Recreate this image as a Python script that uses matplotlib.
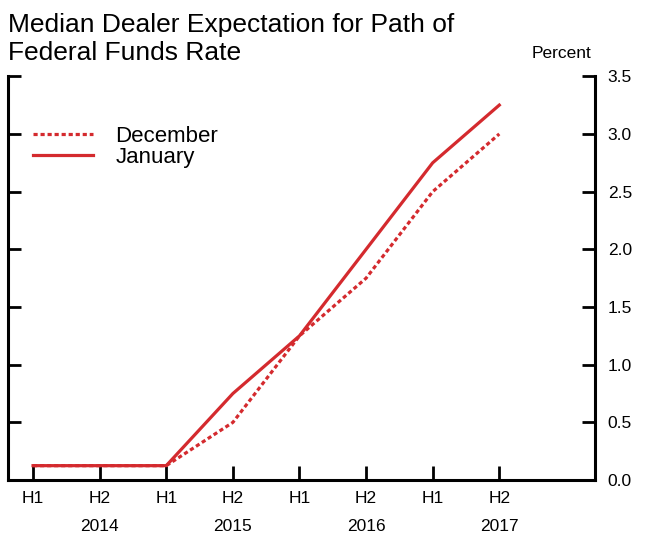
import matplotlib
matplotlib.use('Agg')
import matplotlib.pyplot as plt
import matplotlib.transforms as mtransforms

plt.rcParams['font.family'] = ['Liberation Sans', 'DejaVu Sans']

# Half-year periods and dealer expectations (percent)
halves = ['H1', 'H2', 'H1', 'H2', 'H1', 'H2', 'H1', 'H2']
years = ['2014', '2015', '2016', '2017']
december = [0.125, 0.125, 0.125, 0.5, 1.25, 1.75, 2.5, 3.0]
january = [0.125, 0.125, 0.125, 0.75, 1.25, 2.0, 2.75, 3.25]

red = '#d42a2e'

fig = plt.figure(figsize=(6.51, 5.37), dpi=100)
ax = fig.add_axes([0.0123, 0.106, 0.902, 0.752])

x = list(range(len(halves)))
ax.plot(x, december, color=red, lw=2.3, linestyle=(0, (1.3, 0.9)), label='December')
ax.plot(x, january, color=red, lw=2.3, label='January')

ax.set_xlim(-0.376, 8.44)
ax.set_ylim(0, 3.5)

# Spines: left, right, bottom only
ax.spines['top'].set_visible(False)
for s in ['left', 'right', 'bottom']:
    ax.spines[s].set_linewidth(2.2)

ax.set_xticks(x)
ax.set_xticklabels(halves, fontsize=12.5)
ax.tick_params(axis='x', direction='in', length=10, width=2, pad=8)

yt = [0, 0.5, 1.0, 1.5, 2.0, 2.5, 3.0, 3.5]
ax.set_yticks(yt)
ax.set_yticklabels([f'{v:.1f}' for v in yt], fontsize=12.5)
ax.tick_params(axis='y', direction='in', length=9.5, width=2,
               left=True, right=True, labelleft=False, labelright=True, pad=9)
# longer tick at the top of both axes
ax.set_yticks([3.5], minor=True)
ax.tick_params(axis='y', which='minor', direction='in', length=19, width=2,
               left=True, right=True)

# year labels sit under the H2 tick of each year
trans = mtransforms.blended_transform_factory(ax.transData, ax.transAxes)
for i, yr in enumerate(years):
    ax.text(2 * i + 1, -0.115, yr, transform=trans, ha='center', va='center', fontsize=12.5)

ax.legend(loc='upper left', bbox_to_anchor=(0.028, 0.9), frameon=False, fontsize=16,
          handlelength=2.7, handletextpad=1.0, labelspacing=0.0, borderaxespad=0)

fig.text(0.012, 0.975, 'Median Dealer Expectation for Path of\nFederal Funds Rate',
         ha='left', va='top', fontsize=19, linespacing=1.2)
fig.text(0.862, 0.9, 'Percent', ha='center', va='center', fontsize=12.5)

fig.savefig('out.png', dpi=100)
